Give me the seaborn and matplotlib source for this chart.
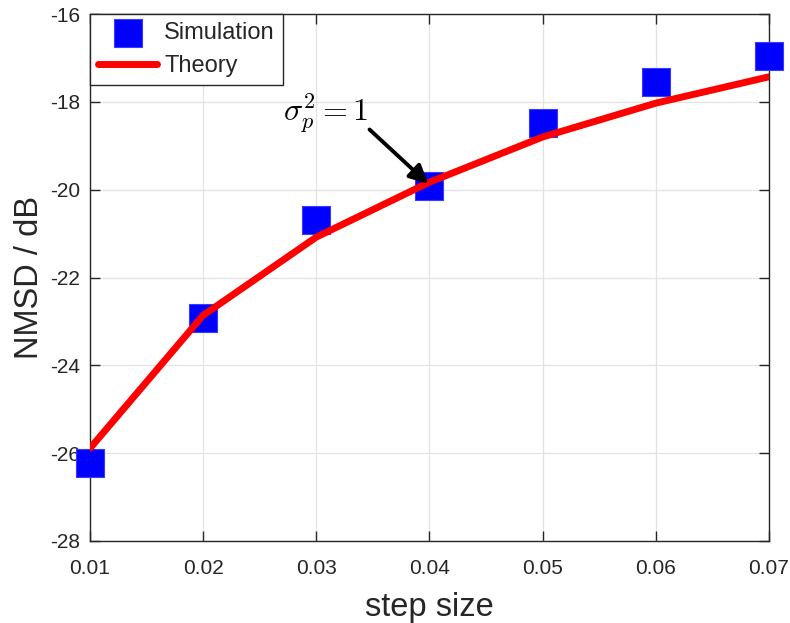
import numpy as np
import pandas as pd
import matplotlib
matplotlib.use("Agg")
import matplotlib.pyplot as plt
import seaborn as sns

# Step sizes and NMSD values (dB)
step_size = [0.01, 0.02, 0.03, 0.04, 0.05, 0.06, 0.07]
nmsd_simulation = [-26.23, -22.92, -20.69, -19.92, -18.48, -17.55, -16.96]
nmsd_theory = [-25.89, -22.86, -21.08, -19.83, -18.80, -18.03, -17.43]

x_ticks = [0.01, 0.02, 0.03, 0.04, 0.05, 0.06, 0.07]
y_ticks = [-28, -26, -24, -22, -20, -18, -16]

sns.set_theme(style="whitegrid")
plt.rcParams["font.family"] = ["Liberation Sans", "DejaVu Sans"]
plt.rcParams["mathtext.fontset"] = "cm"

df_sim = pd.DataFrame({"step": step_size, "nmsd": nmsd_simulation})
df_th = pd.DataFrame({"step": step_size, "nmsd": nmsd_theory})

fig = plt.figure(figsize=(7.9, 6.23), dpi=100)
ax = fig.add_axes([90 / 790, 1 - 541 / 623, (769 - 90) / 790, (541 - 14) / 623])

sns.scatterplot(data=df_sim, x="step", y="nmsd", marker="s", s=400,
                color="#0000ff", edgecolor="#3a3aff", linewidth=0.8,
                label="Simulation", ax=ax, zorder=3, clip_on=False)
sns.lineplot(data=df_th, x="step", y="nmsd", color="#ff0000", linewidth=5,
             label="Theory", ax=ax, zorder=4)

ax.set_xlim(0.01, 0.07)
ax.set_ylim(-28, -16)
ax.set_xticks(x_ticks)
ax.set_xticklabels([f"{v:.2f}" for v in x_ticks])
ax.set_yticks(y_ticks)
ax.set_yticklabels([str(v) for v in y_ticks])

ax.grid(True, color="#e3e3e3", linewidth=0.9)
axis_color = "#262626"
for side in ["left", "right", "top", "bottom"]:
    ax.spines[side].set_visible(True)
    ax.spines[side].set_color(axis_color)
    ax.spines[side].set_linewidth(1.0)
ax.tick_params(axis="both", direction="in", length=7, width=1.0,
               colors=axis_color, labelcolor=axis_color, labelsize=15,
               top=True, right=True, bottom=True, left=True)
ax.tick_params(axis="x", pad=13)
ax.tick_params(axis="y", pad=7)

ax.set_xlabel("step size", fontsize=23.5, color=axis_color, labelpad=10)
ax.set_ylabel("NMSD / dB", fontsize=23.5, color=axis_color, labelpad=4)

# Label with an arrow pointing at the theory curve
ax.text(0.0308, -18.26, r"$\sigma_p^2 = 1$", fontsize=23, ha="center",
        va="center", color="black", zorder=6)
ax.annotate("", xy=(0.0399, -19.87), xytext=(0.0347, -18.63),
            arrowprops=dict(arrowstyle="-|>", color="black", lw=2.8,
                            mutation_scale=28, shrinkA=0, shrinkB=0),
            zorder=6)

leg = ax.legend(loc="upper left", fontsize=17, frameon=True, fancybox=False,
                borderaxespad=0.0, markerscale=1.0, handlelength=2.5,
                handletextpad=0.3, borderpad=0.35, labelspacing=0.45)
leg.get_frame().set_edgecolor(axis_color)
leg.get_frame().set_linewidth(1.0)
leg.get_frame().set_alpha(1.0)

fig.savefig("out.png", dpi=100)
